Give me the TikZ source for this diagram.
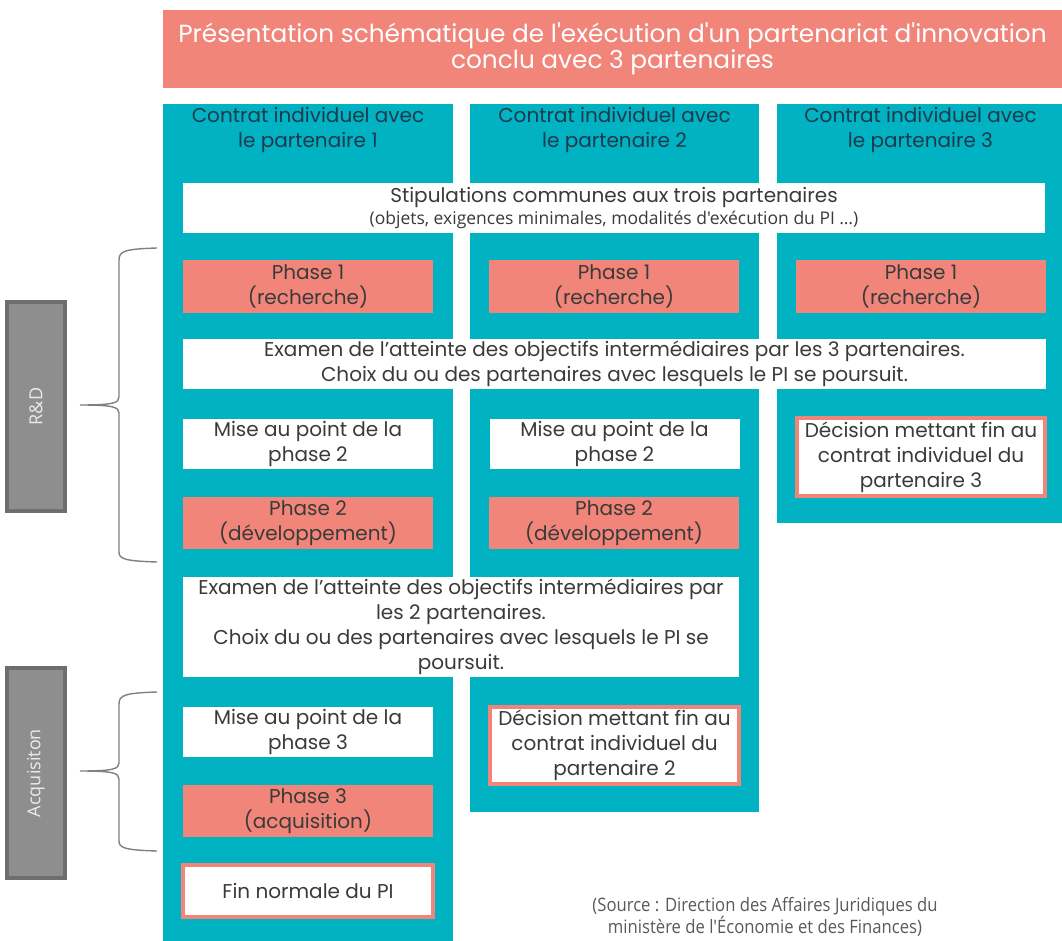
\documentclass[tikz,border=0pt]{standalone}
\usepackage{fontspec}
\setmainfont{Poppins}
\newfontfamily\titlefont{Poppins}
\newfontfamily\smallfont{Open Sans}
\newfontfamily\notefont[FakeStretch=0.9]{Open Sans}
\usetikzlibrary{positioning}
\definecolor{colTeal}{RGB}{0,178,194}
\definecolor{colSalmon}{RGB}{242,133,121}
\definecolor{colBar}{RGB}{142,142,142}
\definecolor{colBarEdge}{RGB}{110,110,110}
\definecolor{colBrace}{RGB}{128,128,128}
\definecolor{colText}{RGB}{58,58,58}
\definecolor{colHead}{RGB}{30,58,79}
\definecolor{colNote}{RGB}{89,89,89}
\tikzset{
	column/.style={fill=colTeal},
	phasebox/.style={fill=colSalmon,minimum width=250,minimum height=52},
	stepbox/.style={fill=white,minimum width=250,minimum height=50},
	endbox/.style={fill=white,draw=colSalmon,line width=4pt},
	header/.style={text=colHead},
	sidebar/.style={fill=colBar,draw=colBarEdge,line width=4pt,minimum height=58,rotate=90,text=white!92!black,font=\smallfont\fontsize{18}{22}\selectfont},
	brace/.style={draw=colBrace,line width=1.4pt}
}
\begin{document}
\begin{tikzpicture}[x=1pt,y=-1pt,every node/.style={inner sep=0pt,align=center,text=colText,font=\fontsize{20}{25}\selectfont}]
		\useasboundingbox (0,0) rectangle (1062,941);
		% titre
		\node[fill=colSalmon,minimum width=899,minimum height=78,text=white,font=\titlefont\fontsize{24.8}{26}\selectfont](title) at (612.5,49) {Présentation schématique de l'exécution d'un partenariat d'innovation\\conclu avec 3 partenaires};
		% colonnes des contrats
		\node[column,minimum width=290,minimum height=841](col1) at (308,524.5) {};
		\node[column,minimum width=289,minimum height=708](col2) at (614.5,458) {};
		\node[column,minimum width=287,minimum height=419](col3) at (920.5,313.5) {};
		\node[header](head1) at (308,130) {Contrat individuel avec\\le partenaire 1};
		\node[header](head2) at (614.5,130) {Contrat individuel avec\\le partenaire 2};
		\node[header](head3) at (920.5,130) {Contrat individuel avec\\le partenaire 3};
		\node[fill=white,minimum width=862,minimum height=50](stip) at (614,208) {Stipulations communes aux trois partenaires\\[-3pt]{\smallfont\fontsize{17.5}{20}\selectfont (objets, exigences minimales, modalités d'exécution du PI \ldots)}};
		% phase 1
		\node[phasebox](ph1a) at (308,286.5) {Phase 1\\(recherche)};
		\node[phasebox](ph1b) at (614,286.5) {Phase 1\\(recherche)};
		\node[phasebox](ph1c) at (921,286.5) {Phase 1\\(recherche)};
		\node[fill=white,minimum width=863,minimum height=50](exam1) at (614.5,364) {Examen de l'atteinte des objectifs intermédiaires par les 3 partenaires.\\Choix du ou des partenaires avec lesquels le PI se poursuit.};
		% phase 2
		\node[stepbox](mise2a) at (308,444) {Mise au point de la\\phase 2};
		\node[stepbox](mise2b) at (614.5,444) {Mise au point de la\\phase 2};
		\node[endbox,minimum width=248,minimum height=78](dec3) at (921,457) {Décision mettant fin au\\contrat individuel du\\partenaire 3};
		\node[phasebox](ph2a) at (308,523) {Phase 2\\(développement)};
		\node[phasebox](ph2b) at (614,523) {Phase 2\\(développement)};
		\node[fill=white,minimum width=556,minimum height=100](exam2) at (461,627) {Examen de l'atteinte des objectifs intermédiaires par\\les 2 partenaires.\\Choix du ou des partenaires avec lesquels le PI se\\poursuit.};
		% phase 3
		\node[stepbox](mise3) at (308,732) {Mise au point de la\\phase 3};
		\node[endbox,minimum width=249,minimum height=77](dec2) at (614.5,745.5) {Décision mettant fin au\\contrat individuel du\\partenaire 2};
		\node[phasebox](ph3) at (308,811) {Phase 3\\(acquisition)};
		\node[endbox,minimum width=250,minimum height=52](fin) at (308,891) {Fin normale du PI};
		\node[text=colNote,font=\notefont\fontsize{18.5}{21}\selectfont](source) at (765,917) {(Source : Direction des Affaires Juridiques du\\ministère de l'Économie et des Finances)};
		% barres laterales et accolades
		\node[sidebar,minimum width=209](rd) at (36,406.5) {R\&D};
		\node[sidebar,minimum width=210](acq) at (36,773) {Acquisiton};
		\draw[brace] (157,248) .. controls (125,249) and (119,251) .. (119,260) -- (119,397) .. controls (119,403) and (113,405) .. (80,405) .. controls (113,405) and (119,407) .. (119,413) -- (119,552) .. controls (119,559) and (125,561) .. (157,562);
		\draw[brace] (157,692) .. controls (125,693) and (119,695) .. (119,704) -- (119,763) .. controls (119,769) and (113,771) .. (80,771) .. controls (113,771) and (119,773) .. (119,779) -- (119,841) .. controls (119,848) and (125,850) .. (157,851);
	\end{tikzpicture}
\end{document}
